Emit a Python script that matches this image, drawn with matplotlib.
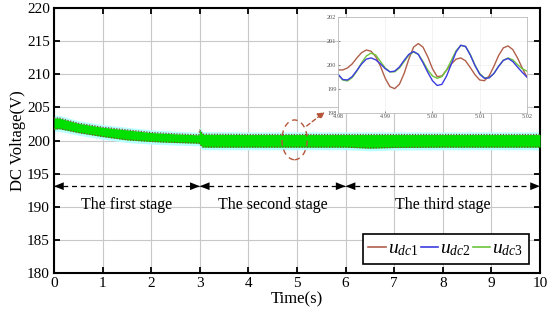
import numpy as np
import matplotlib.pyplot as plt
from matplotlib.patches import Ellipse

plt.rcParams['font.family'] = ['Liberation Serif', 'DejaVu Serif']
plt.rcParams['mathtext.fontset'] = 'custom'
plt.rcParams['mathtext.it'] = 'Liberation Serif:italic'
plt.rcParams['mathtext.rm'] = 'Liberation Serif'

# envelope of the dense oscillating DC voltages
t_env = [0.0, 0.1, 0.5, 1.0, 1.5, 2.0, 2.5, 2.98, 3.0, 3.06, 4.0, 5.0, 6.0, 6.5, 7.0, 8.0, 9.0, 10.0]
upper_env = [203.4, 203.4, 202.6, 202.0, 201.6, 201.2, 201.0, 200.85, 201.6, 200.95, 200.9, 200.9, 200.9, 200.9, 200.9, 200.9, 200.9, 200.9]
lower_env = [201.7, 201.8, 201.2, 200.6, 200.1, 199.85, 199.7, 199.6, 199.4, 199.0, 199.0, 199.0, 199.0, 198.85, 198.95, 199.0, 199.0, 199.0]

# zoomed window 4.98 s .. 5.02 s
t_zoom = np.round(np.arange(4.980, 5.0205, 0.001), 3)
u_dc1 = [199.80, 199.80, 199.88, 200.05, 200.30, 200.52, 200.63, 200.58, 200.35, 199.95,
         199.45, 199.10, 199.02, 199.20, 199.65, 200.25, 200.75, 200.90, 200.75, 200.35,
         199.85, 199.52, 199.55, 199.80, 200.05, 200.25, 200.30, 200.18, 199.90, 199.60,
         199.38, 199.35, 199.55, 199.95, 200.40, 200.72, 200.80, 200.65, 200.30, 199.88,
         199.50]
u_dc2 = [199.62, 199.40, 199.38, 199.52, 199.78, 200.05, 200.25, 200.30, 200.22, 200.05,
         199.85, 199.72, 199.75, 199.92, 200.20, 200.45, 200.57, 200.45, 200.10, 199.70,
         199.35, 199.15, 199.20, 199.55, 200.05, 200.55, 200.83, 200.78, 200.42, 199.98,
         199.62, 199.45, 199.47, 199.65, 199.95, 200.20, 200.28, 200.15, 199.92, 199.70,
         199.50]
u_dc3 = [199.62, 199.38, 199.34, 199.48, 199.75, 200.10, 200.38, 200.50, 200.42, 200.15,
         199.88, 199.72, 199.72, 199.88, 200.15, 200.42, 200.55, 200.45, 200.15, 199.80,
         199.55, 199.45, 199.52, 199.80, 200.20, 200.60, 200.82, 200.78, 200.45, 200.00,
         199.65, 199.47, 199.47, 199.65, 199.95, 200.20, 200.30, 200.22, 200.02, 199.85,
         199.75]

stage_edges = [0, 3, 6, 10]
stage_labels = ['The first stage', 'The second stage', 'The third stage']
arrow_y = 193.1
label_y = 190.3

c1, c2, c3 = '#b0604a', '#3c3ce0', '#6cc43c'

fig = plt.figure(figsize=(5.5, 3.24), dpi=100)
ax = fig.add_axes([0.0982, 0.1574, 0.8836, 0.8179])

# band made of the three oscillating signals
up = np.array(upper_env)
lo = np.array(lower_env)
ax.fill_between(t_env, lo - 0.4, up + 0.4, color='#b8ffff', lw=0, zorder=2)
ax.fill_between(t_env, lo, up, color='#00e000', lw=0, zorder=3)
ax.plot(t_env, up, color='#7a4a2a', lw=0.9, ls=(0, (1, 1.2)), zorder=4)
ax.plot(t_env, lo, color='#7a4a2a', lw=0.9, ls=(0, (1, 1.2)), zorder=4)

# stage arrows
for i in range(3):
    a, b = stage_edges[i], stage_edges[i + 1]
    ax.plot([a, b], [arrow_y, arrow_y], color='black', lw=0.9, ls=(0, (4, 3)), zorder=5)
    for tip, tail in ((a, a + 0.25), (b, b - 0.25)):
        ax.annotate('', xy=(tip, arrow_y), xytext=(tail, arrow_y),
                    arrowprops=dict(arrowstyle='-|>,head_length=0.7,head_width=0.28',
                                    color='black', lw=0.01, shrinkA=0, shrinkB=0),
                    zorder=6)
    ax.text((a + b) / 2, label_y, stage_labels[i], ha='center', va='center', fontsize=11.5, zorder=6)

# zoom marker
zc = (t_zoom[0] + t_zoom[-1]) / 2 - 0.05
ax.add_patch(Ellipse((zc, 200.1), 0.52, 6.0, fill=False, ec='#b5553a', lw=1.0,
                     ls=(0, (4, 3)), zorder=6))
ax.annotate('', xy=(zc + 0.62, 204.3), xytext=(zc + 0.25, 202.2),
            arrowprops=dict(arrowstyle='-|>,head_length=0.4,head_width=0.2', color='#b5553a',
                            lw=1.0, ls=(0, (3, 2)), shrinkA=0, shrinkB=0), zorder=6)

# legend proxies
ax.plot([], [], color=c1, lw=1.2, label=r'$u_{\mathit{dc1}}$')
ax.plot([], [], color=c2, lw=1.2, label=r'$u_{\mathit{dc2}}$')
ax.plot([], [], color=c3, lw=1.2, label=r'$u_{\mathit{dc3}}$')
leg = ax.legend(loc='lower right', bbox_to_anchor=(0.977, 0.034), ncol=3, fontsize=14,
                handlelength=0.9, handletextpad=0.1, columnspacing=0.1, borderpad=0.3,
                fancybox=False, framealpha=1, edgecolor='black', borderaxespad=0)
leg.get_frame().set_linewidth(1.2)
leg.set_zorder(10)

ax.set_xlim(0, 10)
ax.set_ylim(180, 220)
ax.set_xticks(range(0, 11))
ax.set_yticks(range(180, 221, 5))
ax.grid(True, color='#c8c8c8', lw=0.8)
ax.set_axisbelow(True)
ax.tick_params(direction='in', length=4, width=1.3, labelsize=11, top=True, right=True, pad=3)
for s in ax.spines.values():
    s.set_linewidth(1.5)
ax.set_xlabel('Time(s)', fontsize=12, labelpad=1)
ax.set_ylabel('DC Voltage(V)', fontsize=12, labelpad=1)

# inset
ins = fig.add_axes([0.6145, 0.651, 0.3436, 0.296])
ins.plot(t_zoom, u_dc1, color=c1, lw=1.0)
ins.plot(t_zoom, u_dc3, color=c3, lw=1.0)
ins.plot(t_zoom, u_dc2, color=c2, lw=1.0)
ins.set_xlim(4.98, 5.02)
ins.set_ylim(198, 202)
ins.set_xticks([4.98, 4.99, 5.00, 5.01, 5.02])
ins.set_xticklabels(['4.98', '4.99', '5.00', '5.01', '5.02'])
ins.set_yticks([198, 199, 200, 201, 202])
ins.tick_params(direction='in', length=1.5, width=0.5, labelsize=4.5, pad=1, colors='#555555')
ins.grid(True, color='#eeeeee', lw=0.5)
for s in ins.spines.values():
    s.set_linewidth(0.6)
    s.set_color('#bbbbbb')

fig.savefig('out.png', dpi=100)
